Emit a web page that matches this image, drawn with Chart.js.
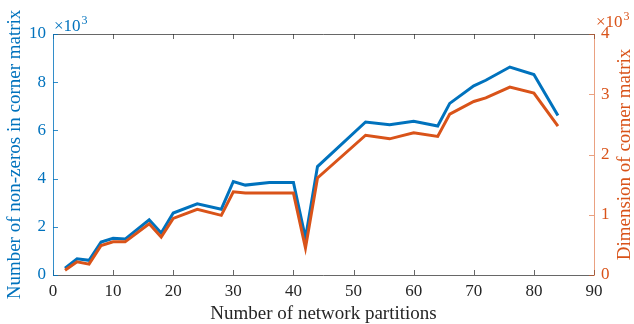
<!DOCTYPE html>
<html>
<head>
<meta charset="utf-8">
<script src="https://cdn.jsdelivr.net/npm/chart.js@4"></script>
<style>
  html, body { margin: 0; padding: 0; background: #fff; }
  #wrap { width: 634px; height: 324px; }
</style>
</head>
<body>
<div id="wrap"><canvas id="chart" width="634" height="324"></canvas></div>
<script>
// partitions vs. size of the corner matrix
const partitions = [2, 4, 6, 8, 10, 12, 16, 18, 20, 24, 28, 30, 32, 36, 40, 42, 44, 52, 56, 60, 64, 66, 70, 72, 76, 80, 84];
const nonZeros = [280, 670, 610, 1370, 1520, 1490, 2290, 1740, 2570, 2950, 2730, 3880, 3730, 3840, 3840, 1530, 4500, 6350, 6240, 6380, 6180, 7120, 7850, 8080, 8630, 8320, 6620];
const dimension = [80, 220, 180, 490, 550, 550, 850, 630, 940, 1090, 990, 1380, 1360, 1360, 1360, 450, 1610, 2320, 2260, 2360, 2300, 2670, 2880, 2940, 3120, 3020, 2470];

const xTicks = [0, 90, 10];
const leftTicks = [0, 10000, 2000];
const rightTicks = [0, 4000, 1000];

const BLUE = 'rgb(0,114,189)';
const ORANGE = 'rgb(217,83,25)';
const FONT = '"Liberation Serif", "Times New Roman", serif';

const toPts = (ys) => ys.map((y, i) => ({ x: partitions[i], y: y }));

// matlab-like box: inward ticks, coloured y axes, x10^3 exponents
const boxPlugin = {
  id: 'box',
  afterDraw(chart) {
    const { ctx, chartArea: a, scales } = chart;
    const tl = 5;
    ctx.save();
    ctx.lineWidth = 1;

    ctx.strokeStyle = 'rgba(38,38,38,0.7)';
    ctx.beginPath();
    ctx.moveTo(a.left, a.top + 0.5); ctx.lineTo(a.right, a.top + 0.5);
    ctx.moveTo(a.left, a.bottom + 0.5); ctx.lineTo(a.right, a.bottom + 0.5);
    scales.x.ticks.forEach(t => {
      const px = Math.round(scales.x.getPixelForValue(t.value)) + 0.5;
      ctx.moveTo(px, a.bottom); ctx.lineTo(px, a.bottom - tl);
      ctx.moveTo(px, a.top); ctx.lineTo(px, a.top + tl);
    });
    ctx.stroke();

    ctx.strokeStyle = 'rgba(0,114,189,0.8)';
    ctx.beginPath();
    ctx.moveTo(a.left + 0.5, a.top); ctx.lineTo(a.left + 0.5, a.bottom + 1);
    scales.y.ticks.forEach(t => {
      const py = Math.round(scales.y.getPixelForValue(t.value)) + 0.5;
      ctx.moveTo(a.left, py); ctx.lineTo(a.left + tl, py);
    });
    ctx.stroke();

    ctx.strokeStyle = 'rgba(217,83,25,0.55)';
    ctx.beginPath();
    ctx.moveTo(a.right + 0.5, a.top); ctx.lineTo(a.right + 0.5, a.bottom + 1);
    scales.y1.ticks.forEach(t => {
      const py = Math.round(scales.y1.getPixelForValue(t.value)) + 0.5;
      ctx.moveTo(a.right, py); ctx.lineTo(a.right - tl, py);
    });
    ctx.stroke();

    // exponent labels
    const expo = (x, y, color) => {
      ctx.fillStyle = color;
      ctx.textBaseline = 'alphabetic';
      ctx.textAlign = 'left';
      ctx.font = '17px ' + FONT;
      ctx.fillText('\u00d710', x, y);
      const w = ctx.measureText('\u00d710').width;
      ctx.font = '12px ' + FONT;
      ctx.fillText('3', x + w + 1, y - 7);
    };
    expo(a.left + 1, a.top - 3, BLUE);
    expo(a.right + 2, a.top - 7, ORANGE);

    // right axis title, reading bottom to top
    ctx.fillStyle = ORANGE;
    ctx.font = '19px ' + FONT;
    ctx.textAlign = 'center';
    ctx.textBaseline = 'middle';
    ctx.translate(625, (a.top + a.bottom) / 2);
    ctx.rotate(-Math.PI / 2);
    ctx.fillText('Dimension of corner matrix', 0, 0);
    ctx.restore();
  }
};

new Chart(document.getElementById('chart'), {
  type: 'line',
  data: {
    datasets: [
      {
        label: 'Number of non-zeros',
        data: toPts(nonZeros),
        yAxisID: 'y',
        borderColor: BLUE,
        borderWidth: 3,
        pointRadius: 0,
        tension: 0,
        order: 1
      },
      {
        label: 'Dimension',
        data: toPts(dimension),
        yAxisID: 'y1',
        borderColor: ORANGE,
        borderWidth: 3,
        pointRadius: 0,
        tension: 0,
        order: 0
      }
    ]
  },
  options: {
    responsive: false,
    animation: false,
    layout: { padding: { top: 34, left: 0, right: 0, bottom: 0 } },
    plugins: { legend: { display: false }, tooltip: { enabled: false } },
    scales: {
      x: {
        type: 'linear',
        min: xTicks[0], max: xTicks[1],
        afterFit(s) { s.height = 49; },
        grid: { display: false, drawTicks: false },
        border: { display: false },
        ticks: { stepSize: xTicks[2], color: '#262626', padding: 6, font: { family: FONT, size: 17 } },
        title: {
          display: true, text: 'Number of network partitions', color: '#262626',
          font: { family: FONT, size: 19, lineHeight: 1 }, padding: { top: 0, bottom: 0 }
        }
      },
      y: {
        position: 'left',
        min: leftTicks[0], max: leftTicks[1],
        afterFit(s) { s.width = 53; },
        grid: { display: false, drawTicks: false },
        border: { display: false },
        ticks: {
          stepSize: leftTicks[2], color: BLUE, padding: 7, font: { family: FONT, size: 17 },
          callback: v => v / 1000
        },
        title: {
          display: true, text: 'Number of non-zeros in corner matrix', color: BLUE,
          font: { family: FONT, size: 19, lineHeight: 1 }, padding: { top: 6, bottom: 0 }
        }
      },
      y1: {
        position: 'right',
        min: rightTicks[0], max: rightTicks[1],
        afterFit(s) { s.width = 40; },
        grid: { display: false, drawTicks: false },
        border: { display: false },
        ticks: {
          stepSize: rightTicks[2], color: ORANGE, padding: 7, font: { family: FONT, size: 17 },
          callback: v => v / 1000
        }
      }
    }
  },
  plugins: [boxPlugin]
});
</script>
</body>
</html>
